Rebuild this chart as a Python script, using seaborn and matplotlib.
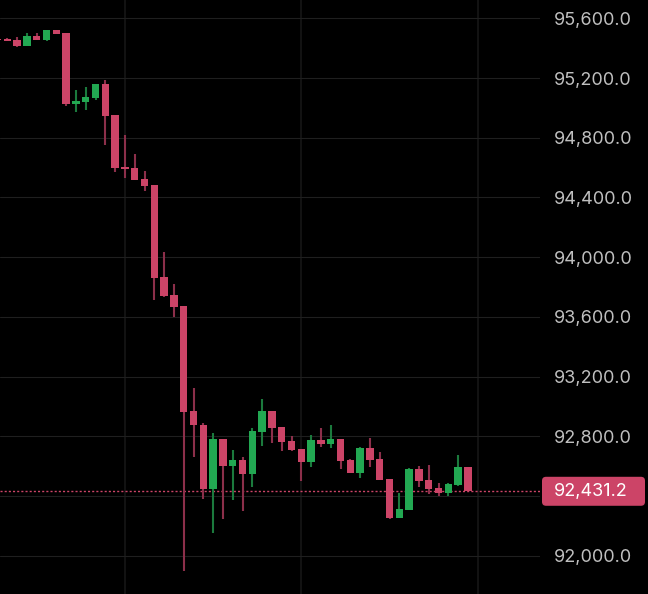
import matplotlib
matplotlib.use("Agg")
import matplotlib.pyplot as plt
import matplotlib.transforms as mtransforms
from matplotlib.patches import FancyBboxPatch
from matplotlib.ticker import FuncFormatter, MultipleLocator
import numpy as np
import seaborn as sns

# candle OHLC values (oldest first)
opens = [95463, 95461, 95455, 95416, 95481, 95457, 95522, 95502, 95028, 95041,
         95068, 95160, 94952, 94604, 94597, 94523, 94483, 93866, 93746, 93672,
         92969, 92875, 92449, 92781, 92603, 92641, 92549, 92830, 92969, 92862,
         92768, 92715, 92630, 92775, 92750, 92781, 92641, 92556, 92721, 92647,
         92514, 92254, 92308, 92580, 92507, 92454, 92422, 92473, 92594]
highs = [95465, 95468, 95473, 95502, 95502, 95522, 95522, 95502, 95120, 95140,
         95160, 95187, 94952, 94818, 94691, 94577, 94483, 94034, 93820, 93672,
         93123, 92888, 92822, 92781, 92708, 92661, 92855, 93049, 92969, 92862,
         92802, 92715, 92808, 92855, 92875, 92781, 92647, 92728, 92788, 92694,
         92514, 92419, 92587, 92600, 92607, 92487, 92489, 92674, 92594]
lows = [95455, 95448, 95410, 95416, 95457, 95450, 95497, 95014, 94974, 94988,
        95055, 94753, 94572, 94532, 94519, 94445, 93715, 93733, 93600, 91899,
        92663, 92381, 92153, 92247, 92375, 92301, 92462, 92737, 92757, 92703,
        92701, 92502, 92596, 92730, 92723, 92580, 92556, 92522, 92596, 92509,
        92247, 92254, 92308, 92462, 92415, 92401, 92401, 92466, 92431.2]
closes = [95458, 95450, 95416, 95481, 95457, 95522, 95497, 95028, 95046, 95073,
          95160, 94947, 94599, 94592, 94519, 94478, 93862, 93739, 93668, 92964,
          92877, 92449, 92781, 92603, 92641, 92549, 92835, 92969, 92857, 92764,
          92710, 92630, 92775, 92750, 92780, 92636, 92556, 92721, 92643, 92509,
          92254, 92312, 92580, 92502, 92449, 92422, 92480, 92594, 92431.2]
last_price = 92431.2
price_ticks = [92000, 92400, 92800, 93200, 93600, 94000, 94400, 94800, 95200, 95600]
time_grid = [13, 31, 49]

UP = "#22a852"
DOWN = "#cc4467"
UP_WICK = "#1b7a3d"
DOWN_WICK = "#8c2f4a"
BG = "#000000"

sns.set_theme(style="dark", rc={"axes.facecolor": BG, "figure.facecolor": BG})
plt.rcParams["font.family"] = ["Inter", "DejaVu Sans"]

fig = plt.figure(figsize=(6.48, 5.94), dpi=100)
ax = fig.add_axes([0, 0, 540 / 648, 1])

x = np.arange(len(opens))
o = np.array(opens, dtype=float)
c = np.array(closes, dtype=float)
up = c >= o
body_bottom = np.minimum(o, c)
body_height = np.maximum(np.abs(c - o), 6)

for t in time_grid:
    ax.axvline(t, color="#121212", lw=1.5, zorder=0)
for p in price_ticks:
    ax.axhline(p, color="#1f1f1f", lw=0.8, zorder=0)

ax.vlines(x, lows, highs, colors=np.where(up, UP_WICK, DOWN_WICK), lw=1.5, zorder=2)
ax.bar(x, body_height, bottom=body_bottom, width=0.75,
       color=np.where(up, UP, DOWN), linewidth=0, zorder=3)

ax.axhline(last_price, color=DOWN, lw=1.0, linestyle=(0, (1.5, 1.5)), zorder=1)

ax.set_xlim(2.5 / 9.8, 542.5 / 9.8)
ax.set_ylim(91743, 95723)
ax.yaxis.set_major_locator(MultipleLocator(400))


def price_label(v, _):
    # the 92,400 label sits under the last-price tag
    if abs(v - 92400) < 1:
        return ""
    return f"{v:,.1f}"


ax.yaxis.set_major_formatter(FuncFormatter(price_label))
ax.yaxis.tick_right()
ax.tick_params(axis="y", length=0, pad=10, labelsize=13, labelcolor="#bfbfbf")
ax.tick_params(axis="x", length=0, labelbottom=False)
ax.grid(False)
for s in ax.spines.values():
    s.set_visible(False)

# last price tag, in pixel coordinates next to the axis
yc = ax.transData.transform((0, last_price))[1]
pix = mtransforms.IdentityTransform()
tag = FancyBboxPatch((542, yc - 14.5), 103, 29, boxstyle="round,pad=0,rounding_size=4",
                     fc=DOWN, ec="none", transform=pix, zorder=4)
fig.patches.append(tag)
fig.text(554, yc, f"{last_price:,.1f}", transform=pix, ha="left", va="center",
         fontsize=13, color="white", zorder=5)

fig.savefig("out.png", dpi=100, facecolor=BG)
